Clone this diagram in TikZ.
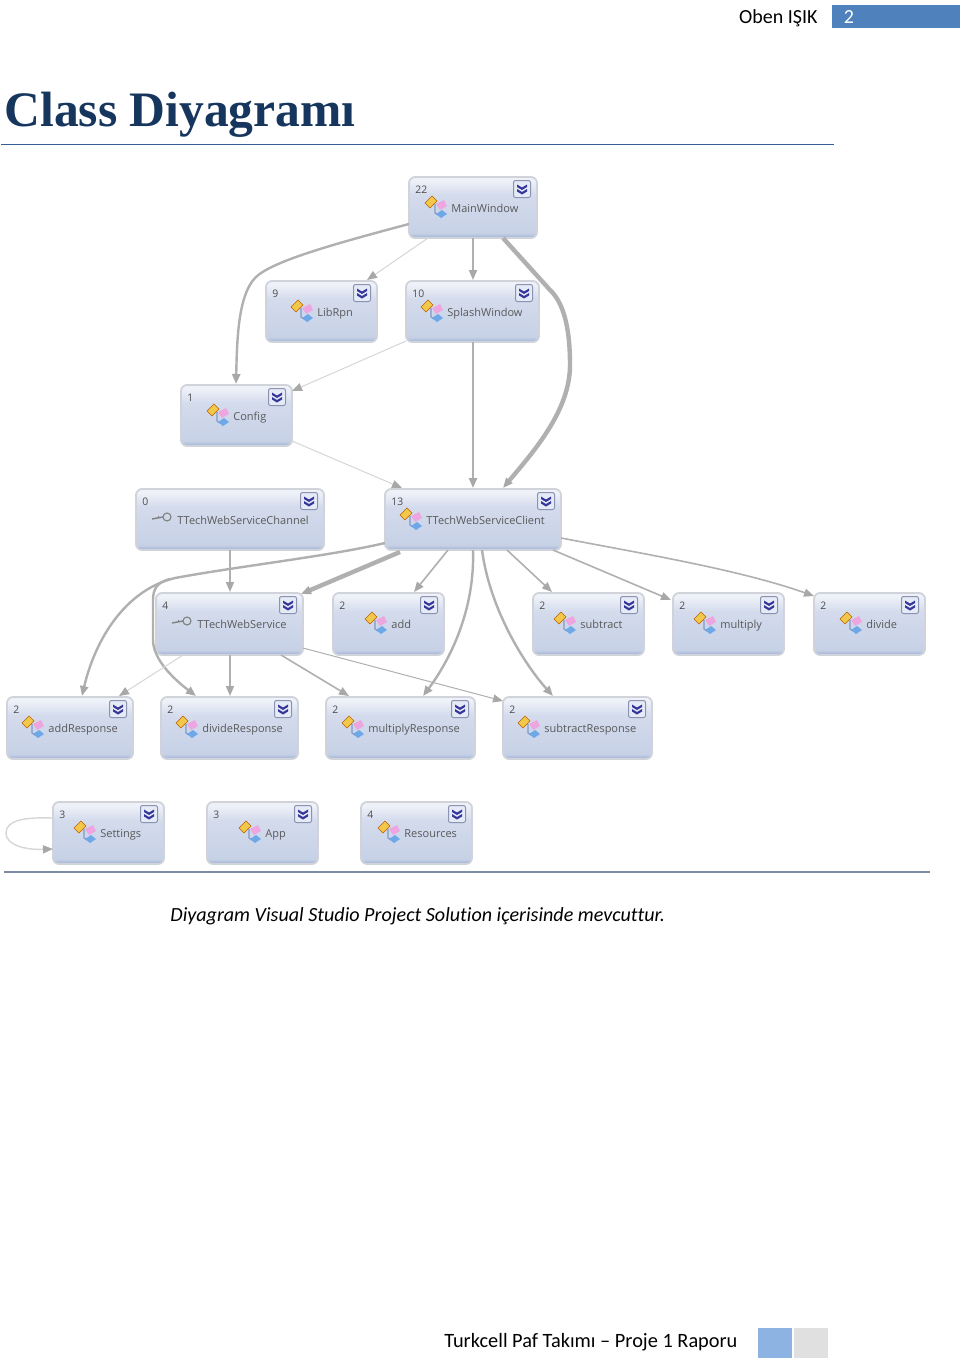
\documentclass[tikz,border=0pt]{standalone}
\usepackage{fontspec}
\setmainfont{Carlito}[Ligatures=NoCommon]
\newfontfamily\titlefont{Liberation Serif}
\newfontfamily\boxfont{Open Sans}
\usetikzlibrary{arrows.meta,calc}
\definecolor{boxtop}{HTML}{EEF1F8}
\definecolor{boxmid}{HTML}{D3DBEC}
\definecolor{boxlow}{HTML}{C7D1E6}
\definecolor{boxband}{HTML}{9DB0D6}
\definecolor{boxedge}{HTML}{D0D3DA}
\definecolor{linkA}{HTML}{B0B0B0}
\definecolor{linkB}{HTML}{D6D6D6}
\definecolor{tipA}{HTML}{A8A8A8}
\definecolor{hdrblue}{HTML}{4F81BD}
\definecolor{titleblue}{HTML}{17365D}
\definecolor{rulea}{HTML}{365F91}
\definecolor{ruleb}{HTML}{7D8CA5}
\definecolor{footblue}{HTML}{8DB3E2}
\definecolor{footgray}{HTML}{E0E0E0}
\definecolor{btnedge}{HTML}{8A94B0}
\definecolor{btnfill}{HTML}{E6EAF6}
\definecolor{chev}{HTML}{35389A}
\definecolor{icyellow}{HTML}{F2C84B}
\definecolor{icpink}{HTML}{EDA6E0}
\definecolor{icblue}{HTML}{6FA8E8}
\definecolor{iclink}{HTML}{7C9AC8}
\pgfdeclareverticalshading{classbox}{100bp}{color(0bp)=(boxband); color(25bp)=(boxband); color(29bp)=(boxlow); color(60bp)=(boxmid); color(72bp)=(boxtop); color(75bp)=(boxtop); color(100bp)=(boxtop)}
\tikzset{
  x=0.5pt,y=-0.5pt,
  clsbox/.style={draw=boxedge,line width=0.9pt,rounded corners=3pt,shading=classbox,inner sep=0pt,outer sep=0pt},
  clscount/.style={font=\boxfont\fontsize{5.2}{6}\selectfont,text=black!70,inner sep=0pt,anchor=base west},
  clslabel/.style={font=\boxfont\fontsize{5.5}{7}\selectfont,text=black!65,inner sep=0pt,anchor=base west},
  expbtn/.style={draw=btnedge,fill=btnfill,rounded corners=1pt,line width=0.5pt,minimum width=8.5pt,minimum height=8.5pt,inner sep=0pt},
  tipstyle/.style={-{Triangle[length=5pt,width=4pt,color=tipA]}},
  linkmain/.style={tipstyle,draw=linkA,line width=0.8pt},
  linklight/.style={tipstyle,draw=linkB,line width=0.5pt},
  linkmed/.style={tipstyle,draw=linkA,line width=1.2pt},
  linkbig/.style={tipstyle,draw=linkA,line width=2.2pt},
  pagetext/.style={font=\fontsize{10}{12}\selectfont,inner sep=0pt}
}
\newcommand{\clsicon}[2]{%
  \begin{scope}[shift={(#1,#2)}]
    \draw[iclink,line width=0.6pt] (0,-3) -- (0,6) -- (3,8);
    \fill[icyellow,draw=orange!75!black,line width=0.2pt] (-10,-4) -- (-3,-11) -- (2,-6) -- (-5,1) -- cycle;
    \fill[icpink] (1,-3) -- (9,-7) -- (12,-1) -- (5,3) -- cycle;
    \fill[icblue] (1,7) -- (7,3) -- (12,7) -- (6,11) -- cycle;
  \end{scope}}
\newcommand{\keyicon}[2]{%
  \begin{scope}[shift={(#1,#2)}]
    \draw[gray,line width=0.55pt] (0,0) circle (4);
    \draw[gray,line width=0.7pt] (-4,0) -- (-15,2);
    \draw[gray,line width=0.5pt] (-9,1) -- (-9,-1);
  \end{scope}}
\newcommand{\classnode}[9]{%
  \node[clsbox,minimum width={(#4-#2)*0.5pt},minimum height={(#5-#3)*0.5pt}] (#1) at ({(#2+#4)/2},{(#3+#5)/2}) {};
  \node[clscount] (#1-count) at (#2+6,#3+16) {#6};
  \node[expbtn] (#1-btn) at (#4-15,#3+12) {};
  \fill[chev] (#4-20,#3+7.5) -- (#4-15,#3+10.5) -- (#4-10,#3+7.5) -- (#4-10,#3+10) -- (#4-15,#3+13) -- (#4-20,#3+10) -- cycle;
  \fill[chev] (#4-20,#3+12) -- (#4-15,#3+15) -- (#4-10,#3+12) -- (#4-10,#3+14.5) -- (#4-15,#3+17.5) -- (#4-20,#3+14.5) -- cycle;
  \node[clslabel] (#1-label) at (#8,#3+35.5) {#7};
  \if#9k\keyicon{#8-10}{#3+28}\else\clsicon{#8-16}{#3+30}\fi
}
\begin{document}
\begin{tikzpicture}
\useasboundingbox (0,0) rectangle (960,1360);
\fill[white] (0,0) rectangle (960,1360);
% header
\node[pagetext,anchor=east] (author) at (818,18) {Oben IŞIK};
\fill[hdrblue] (832,5) rectangle (960,28);
\node[pagetext,text=white,anchor=center] (pagenum) at (849,17) {2};
% title
\node[font=\titlefont\bfseries\fontsize{24.8}{28}\selectfont,text=titleblue,anchor=west,inner sep=0pt] (title) at (4,115) {Class Diyagramı};
\draw[draw=rulea,line width=0.6pt] (1,144.5) -- (834,144.5);
% classes
\classnode{main}{409}{177}{537}{238}{22}{MainWindow}{451}{c}
\classnode{librpn}{266}{281}{377}{342}{9}{LibRpn}{317}{c}
\classnode{splash}{406}{281}{539}{342}{10}{SplashWindow}{447}{c}
\classnode{config}{181}{385}{292}{446}{1}{Config}{233}{c}
\classnode{channel}{136}{489}{324}{550}{0}{TTechWebServiceChannel}{177}{k}
\classnode{client}{385}{489}{561}{550}{13}{TTechWebServiceClient}{426}{c}
\classnode{service}{156}{593}{303}{655}{4}{TTechWebService}{197}{k}
\classnode{add}{333}{593}{444}{655}{2}{add}{391}{c}
\classnode{subtract}{533}{593}{644}{655}{2}{subtract}{580}{c}
\classnode{multiply}{673}{593}{784}{655}{2}{multiply}{720}{c}
\classnode{divide}{814}{593}{925}{655}{2}{divide}{866}{c}
\classnode{addr}{7}{697}{133}{759}{2}{addResponse}{48}{c}
\classnode{divr}{161}{697}{298}{759}{2}{divideResponse}{202}{c}
\classnode{mulr}{326}{697}{475}{759}{2}{multiplyResponse}{368}{c}
\classnode{subr}{503}{697}{652}{759}{2}{subtractResponse}{544}{c}
\classnode{settings}{53}{802}{164}{864}{3}{Settings}{100}{c}
\classnode{app}{207}{802}{318}{864}{3}{App}{265}{c}
\classnode{resources}{361}{802}{472}{864}{4}{Resources}{404}{c}
% connectors
\draw[linkmed] ($(main.north west)+(0,47)$) .. controls (330,245) and (270,262) .. (255,278) .. controls (238,296) and (237,340) .. ($(config.north west)+(55,-1)$);
\draw[linklight] ($(main.south west)+(19,0)$) -- ($(librpn.north east)+(-10,-1)$);
\draw[linkmain] ($(main.south west)+(64,0)$) -- ($(splash.north west)+(67,-1)$);
\draw[linkbig] ($(main.south west)+(94,0)$) -- (550,290) .. controls (566,305) and (570,335) .. (570,365) .. controls (570,410) and (535,450) .. ($(client.north west)+(118,-1)$);
\draw[linklight] ($(splash.south west)+(0,-1)$) -- ($(config.north east)+(0,6)$);
\draw[linkmed] ($(splash.south west)+(67,0)$) -- ($(client.north west)+(88,-1)$);
\draw[linklight] ($(config.south east)+(0,-5)$) -- ($(client.north west)+(17,-1)$);
\draw[linkmain] ($(channel.south west)+(94,0)$) -- ($(service.north west)+(74,-1)$);
\draw[linkbig] ($(client.south west)+(15,2)$) -- ($(service.north east)+(-2,1)$);
\draw[linkmed] ($(client.south west)+(0,-7)$) .. controls (330,556) and (240,566) .. (175,578) .. controls (125,590) and (95,640) .. ($(addr.north west)+(75,-1)$);
\draw[linkmed] (170,579) .. controls (158,582) and (153,588) .. (153,600) -- (153,640) .. controls (153,660) and (175,680) .. ($(divr.north west)+(35,-1)$);
\draw[linkmain] ($(client.south west)+(63,0)$) -- ($(add.north west)+(81,-1)$);
\draw[linkmed] ($(client.south west)+(88,0)$) .. controls (475,610) and (450,660) .. ($(mulr.north east)+(-52,-1)$);
\draw[linkmed] ($(client.south west)+(97,0)$) .. controls (490,610) and (525,665) .. ($(subr.north west)+(50,-1)$);
\draw[linkmain] ($(client.south west)+(122,0)$) -- ($(subtract.north west)+(19,-1)$);
\draw[linkmain] ($(client.south east)+(-8,0)$) -- ($(multiply.north west)+(-2,7)$);
\draw[linkmain] ($(client.south east)+(0,-12)$) .. controls (650,555) and (740,570) .. ($(divide.north west)+(0,3)$);
\draw[linklight] ($(service.south west)+(27,0)$) -- ($(addr.north east)+(-14,-1)$);
\draw[linkmain] ($(service.south west)+(74,0)$) -- ($(divr.north west)+(69,-1)$);
\draw[linkmain] ($(service.south east)+(-22,0)$) -- ($(mulr.north west)+(23,-1)$);
\draw[linkmain,line width=0.5pt] ($(service.south east)+(0,-7)$) -- ($(subr.north west)+(0,4)$);
\draw[linklight,line width=0.7pt] ($(settings.north west)+(0,16)$) .. controls (25,817) and (6,820) .. (6,833) .. controls (6,845) and (25,850) .. ($(settings.north west)+(0,47)$);
% lower rule and caption
\draw[draw=ruleb,line width=0.8pt] (4,872) -- (930,872);
\node[pagetext,anchor=west,font=\itshape\fontsize{10.05}{12}\selectfont] (caption) at (170,916) {Diyagram Visual Studio Project Solution içerisinde mevcuttur.};
% footer
\node[pagetext,anchor=west,font=\fontsize{10.17}{12}\selectfont] (footer) at (444,1342) {Turkcell Paf Takımı – Proje 1 Raporu};
\fill[footblue] (758,1328) rectangle (792,1358);
\fill[footgray] (794,1328) rectangle (828,1358);
\end{tikzpicture}
\end{document}
